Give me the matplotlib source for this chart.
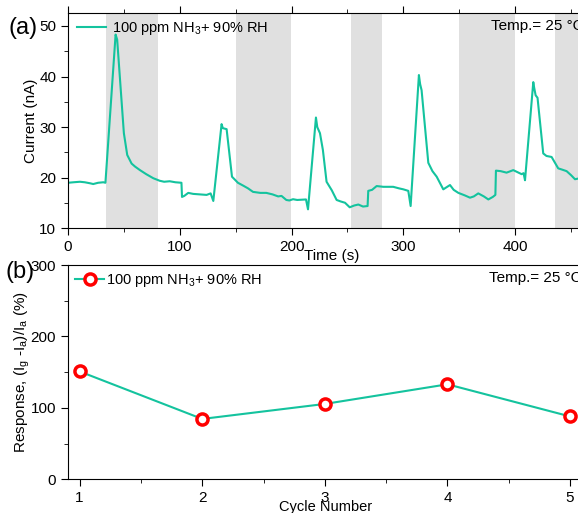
import numpy as np
import matplotlib.pyplot as plt
from matplotlib.ticker import MultipleLocator

plt.rcParams['font.family'] = ['Liberation Sans', 'DejaVu Sans']
plt.rcParams['mathtext.default'] = 'regular'
plt.rcParams['font.size'] = 10

# panel (a): current trace
time_s = [0, 5, 10.7, 15, 19.7, 22.6, 27, 31.6, 33.5, 42.6, 44, 50, 53, 56.9, 60, 64.4, 70, 76.3,
          82, 86, 91, 96, 101.5, 102, 104, 107.6, 112, 118, 124, 127.6, 130, 137.4, 138.5, 141.9,
          146.7, 152, 157, 161, 165.5, 172, 177.4, 183, 188, 191, 195.3, 198, 201.3, 205, 212.9,
          214.7, 221.8, 223, 225.4, 228, 231.3, 236, 240.3, 244, 247.8, 252, 256, 259.7, 263.9,
          268, 268.6, 272, 276.1, 282, 290.9, 296, 300, 304.4, 306.5, 313.9, 315, 316.3, 322.3,
          326, 329.8, 335.7, 341.7, 345, 349.2, 355, 359.6, 363, 367, 372, 376, 380, 382.3, 382.8,
          387, 392.3, 398.3, 403, 405.8, 407.5, 408.8, 416.2, 417, 418.3, 420, 425.1, 428, 432.6,
          438.5, 442, 446, 450, 453.5, 458]
current_nA = [19.0, 19.1, 19.2, 19.1, 18.9, 18.75, 19.0, 19.1, 19.0, 48.3, 47.3, 28.8, 24.5, 22.8,
              22.2, 21.5, 20.7, 19.9, 19.4, 19.2, 19.3, 19.1, 19.0, 16.2, 16.4, 17.0, 16.8, 16.7,
              16.6, 16.9, 15.4, 30.6, 29.8, 29.6, 20.2, 19.0, 18.4, 17.9, 17.2, 17.0, 17.0, 16.7,
              16.3, 16.4, 15.6, 15.5, 15.75, 15.6, 15.7, 13.75, 31.9, 30.0, 28.8, 25.5, 19.2, 17.5,
              15.6, 15.3, 15.05, 14.15, 14.5, 14.7, 14.3, 14.4, 17.4, 17.6, 18.35, 18.2, 18.2, 17.9,
              17.7, 17.4, 14.4, 40.3, 38.5, 37.3, 22.95, 21.3, 20.2, 17.7, 18.55, 17.6, 17.0, 16.5,
              16.05, 16.3, 16.9, 16.3, 15.7, 16.2, 16.6, 21.4, 21.3, 21.0, 21.5, 21.0, 20.7, 20.9,
              19.5, 38.9, 37.8, 36.3, 35.8, 24.8, 24.3, 24.1, 21.85, 21.6, 21.3, 20.5, 19.7, 19.9]
gas_on = [(34, 80.5), (150, 199.5), (253, 281), (350, 400), (436, 470)]

# panel (b): response per cycle
cycles = [1, 2, 3, 4, 5]
response = [151, 84.5, 105.5, 133, 88]

teal = '#14c39e'
fig = plt.figure(figsize=(5.78, 5.13), dpi=100)
ax1 = fig.add_axes([0.1176, 0.555, 0.8824, 0.419])
ax2 = fig.add_axes([0.1176, 0.0657, 0.8824, 0.4177])
ax2.patch.set_alpha(0)

for a, b in gas_on:
    ax1.axvspan(a, b, color='#e0e0e0', lw=0, zorder=0)
ax1.plot(time_s, current_nA, color=teal, lw=1.5, label='100 ppm NH$_3$+ 90% RH')
ax1.set_xlim(0, 456.2)
ax1.set_ylim(10, 52.5)
ax1.xaxis.set_major_locator(MultipleLocator(100))
ax1.xaxis.set_minor_locator(MultipleLocator(50))
ax1.yaxis.set_major_locator(MultipleLocator(10))
ax1.yaxis.set_minor_locator(MultipleLocator(5))
ax1.set_ylabel('Current (nA)', fontsize=11)
ax1.yaxis.set_label_coords(-0.058, 0.5)
ax1.set_xlabel('Time (s)', fontsize=11)
ax1.xaxis.set_label_coords(0.518, -0.098)
ax1.tick_params(which='both', direction='out', top=True, labelsize=11)
ax1.tick_params(which='major', length=5)
ax1.tick_params(which='minor', length=3)
ax1.spines['right'].set_visible(False)
ax1.legend(loc='upper left', frameon=False, handlelength=2.0, fontsize=10.5,
           bbox_to_anchor=(-0.008, 1.03), handletextpad=0.4)
ax1.text(0.829, 0.94, 'Temp.= 25 °C', transform=ax1.transAxes, fontsize=11, va='center')
fig.text(0.014, 0.945, '(a)', fontsize=17, va='center')

ax2.plot(cycles, response, color=teal, lw=1.5, marker='o', ms=8, mfc='white', mec='#ff0000',
         mew=2.5, label='100 ppm NH$_3$+ 90% RH')
ax2.set_xlim(0.905, 5.065)
ax2.set_ylim(0, 300)
ax2.xaxis.set_major_locator(MultipleLocator(1))
ax2.xaxis.set_minor_locator(MultipleLocator(0.5))
ax2.yaxis.set_major_locator(MultipleLocator(100))
ax2.yaxis.set_minor_locator(MultipleLocator(50))
ax2.set_ylabel('Response, (I$_g$ -I$_a$)/I$_a$ (%)', fontsize=11)
ax2.yaxis.set_label_coords(-0.07, 0.5)
ax2.set_xlabel('Cycle Number', fontsize=10.5)
ax2.xaxis.set_label_coords(0.505, -0.095)
ax2.tick_params(which='both', direction='out', labelsize=11)
ax2.tick_params(which='major', length=5)
ax2.tick_params(which='minor', length=3)
ax2.spines['right'].set_visible(False)
ax2.legend(loc='upper left', frameon=False, handlelength=2.0, fontsize=10.5,
           bbox_to_anchor=(-0.012, 1.03), handletextpad=0.1)
ax2.text(0.825, 0.94, 'Temp.= 25 °C', transform=ax2.transAxes, fontsize=11, va='center')
fig.text(0.01, 0.47, '(b)', fontsize=17, va='center')

fig.savefig('out.png', dpi=100)
